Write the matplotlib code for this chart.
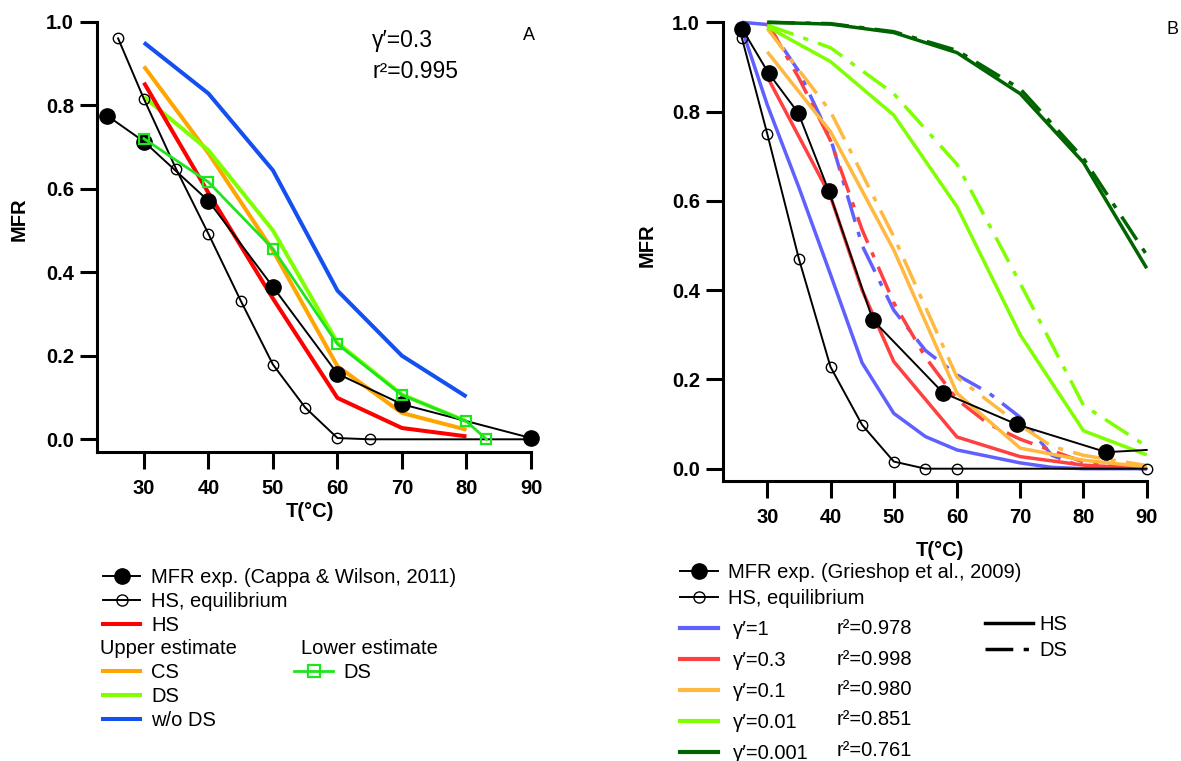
import matplotlib
matplotlib.use("Agg")
import matplotlib.pyplot as plt
from matplotlib.lines import Line2D

plt.rcParams['font.family'] = ['Liberation Sans', 'DejaVu Sans']

# ---------------- Panel A data ----------------
A_exp_T = [24.3, 30, 40, 50, 60, 70, 90]
A_exp = [0.775, 0.713, 0.571, 0.365, 0.157, 0.084, 0.003]
A_eq_T = [26, 30, 35, 40, 45, 50, 55, 60, 65, 90]
A_eq = [0.960, 0.815, 0.647, 0.492, 0.332, 0.179, 0.076, 0.003, 0.0, 0.0]
A_T = [30, 40, 50, 60, 70, 80]
A_HS = [0.854, 0.59, 0.337, 0.099, 0.027, 0.007]
A_CS_up = [0.893, 0.685, 0.452, 0.175, 0.063, 0.023]
A_DS_up = [0.820, 0.692, 0.500, 0.231, 0.107, 0.043]
A_woDS = [0.950, 0.828, 0.644, 0.356, 0.200, 0.102]
A_DSlow_T = [30, 40, 50, 60, 70, 80, 83.1]
A_DSlow = [0.720, 0.616, 0.456, 0.228, 0.106, 0.043, 0.0]

# ---------------- Panel B data ----------------
B_exp_T = [26, 30.2, 34.9, 39.7, 46.7, 57.8, 69.5, 83.6, 90]
B_exp = [0.986, 0.886, 0.797, 0.623, 0.333, 0.170, 0.099, 0.037, 0.042]
B_eq_T = [26, 30, 35, 40, 45, 50, 55, 60, 90]
B_eq = [0.964, 0.750, 0.470, 0.228, 0.098, 0.016, 0.0, 0.0, 0.0]

g1_HS_T = [26, 30, 35, 40, 45, 50, 55, 60, 70, 75, 80, 90]
g1_HS = [0.985, 0.815, 0.63, 0.435, 0.237, 0.124, 0.072, 0.042, 0.013, 0.003, 0.0, 0.0]
g1_DS_T = [26, 30, 35, 40, 45, 50, 55, 60, 65, 70, 75, 80, 90]
g1_DS = [1.0, 0.995, 0.89, 0.74, 0.50, 0.355, 0.265, 0.21, 0.17, 0.115, 0.03, 0.003, 0.0]

g03_HS_T = [30, 40, 45, 50, 60, 70, 80, 90]
g03_HS = [0.878, 0.61, 0.40, 0.24, 0.071, 0.027, 0.008, 0.0]
g03_DS_T = [30, 35, 40, 45, 50, 55, 60, 65, 70, 80, 90]
g03_DS = [1.0, 0.875, 0.735, 0.535, 0.372, 0.25, 0.155, 0.10, 0.066, 0.015, 0.002]

g01_HS_T = [30, 40, 50, 60, 70, 80, 90]
g01_HS = [0.934, 0.755, 0.49, 0.169, 0.046, 0.019, 0.004]
g01_DS_T = [30, 40, 50, 60, 70, 75, 80, 90]
g01_DS = [0.986, 0.80, 0.52, 0.205, 0.097, 0.05, 0.03, 0.007]

g001_T = [30, 40, 50, 60, 70, 80, 90]
g001_HS = [0.99, 0.912, 0.792, 0.587, 0.30, 0.085, 0.031]
g001_DS = [0.994, 0.943, 0.84, 0.682, 0.415, 0.142, 0.05]

g0001_T = [30, 40, 50, 60, 70, 80, 90]
g0001_HS = [1.0, 0.996, 0.977, 0.932, 0.840, 0.686, 0.449]
g0001_DS = [1.0, 0.997, 0.979, 0.937, 0.851, 0.695, 0.479]

gamma_labels = ["γ′=1", "γ′=0.3", "γ′=0.1", "γ′=0.01", "γ′=0.001"]
r2_labels = ["r²=0.978", "r²=0.998", "r²=0.980", "r²=0.851", "r²=0.761"]

x_ticks = [30, 40, 50, 60, 70, 80, 90]
y_ticks = [0.0, 0.2, 0.4, 0.6, 0.8, 1.0]

# ---------------- styles ----------------
W, H = 1181, 761
fig = plt.figure(figsize=(W / 100, H / 100), dpi=100)

def fx(x):
    return x / W

def fy(y):
    return 1 - y / H

cA = dict(red='#FF0000', orange='#FFA500', lime='#80FF00', blue='#1450F0', low='#1EE61E')
cB = ['#6060FF', '#FF4040', '#FFB840', '#80FF00', '#006400']
DD = (8, 3, 1.5, 3)
FS = 14.5
TFS = 14.5

def style_axes(ax, xlim, ylim):
    ax.set_xlim(*xlim)
    ax.set_ylim(*ylim)
    for s in ['top', 'right']:
        ax.spines[s].set_visible(False)
    for s in ['left', 'bottom']:
        ax.spines[s].set_linewidth(2.2)
    ax.set_xticks(x_ticks)
    ax.set_yticks(y_ticks)
    ax.set_yticklabels([f"{v:.1f}" for v in y_ticks])
    ax.tick_params(axis='both', direction='out', length=12, width=2.2,
                   labelsize=TFS)
    ax.tick_params(axis='x', pad=7.5)
    ax.tick_params(axis='y', pad=4.5)
    for lab in ax.get_xticklabels() + ax.get_yticklabels():
        lab.set_fontweight('bold')
    ax.set_xlabel('T(°C)', fontsize=TFS, fontweight='bold')
    ax.set_ylabel('MFR', fontsize=TFS, fontweight='bold')

def add_legend(handles, labels, x, ytop, hl, htp, ls):
    return fig.legend(handles, labels, loc='upper left',
                      bbox_to_anchor=(fx(x), fy(ytop)),
                      bbox_transform=fig.transFigure, frameon=False, fontsize=FS,
                      borderpad=0, borderaxespad=0, handlelength=hl,
                      handletextpad=htp, labelspacing=ls)

# ---------------- Panel A ----------------
axA = fig.add_axes([fx(96.7), fy(451.7), fx(531 - 96.7), (451.7 - 21.7) / H])
style_axes(axA, (22.68, 90), (-0.0297, 1.0))
lwA = 2.9
axA.plot(A_T, A_woDS, color=cA['blue'], lw=lwA, solid_capstyle='butt', zorder=2)
axA.plot(A_T, A_CS_up, color=cA['orange'], lw=lwA, solid_capstyle='butt', zorder=2)
axA.plot(A_T, A_DS_up, color=cA['lime'], lw=lwA, solid_capstyle='butt', zorder=2)
axA.plot(A_T, A_HS, color=cA['red'], lw=lwA, solid_capstyle='butt', zorder=2)
axA.plot(A_eq_T, A_eq, color='black', lw=1.4, marker='o', ms=7.5, mfc='none',
         mec='black', mew=1.0, zorder=3, clip_on=False)
axA.plot(A_exp_T, A_exp, color='black', lw=1.4, marker='o', ms=11, mfc='black',
         mec='black', zorder=4, clip_on=False)
axA.plot(A_DSlow_T, A_DSlow, color=cA['low'], lw=2.0, marker='s', ms=7.5,
         mfc='none', mec=cA['low'], mew=1.6, zorder=5, clip_on=False)
axA.xaxis.set_label_coords(0.491, -0.118)
axA.yaxis.set_label_coords(-0.1575, 0.541)

fig.text(fx(372), fy(40), 'γ′=0.3', fontsize=16.5, va='center', ha='left')
fig.text(fx(372), fy(72), 'r²=0.995', fontsize=16.5, va='center', ha='left')
fig.text(fx(529), fy(36), 'A', fontsize=13, va='center', ha='center')

# Legend A
add_legend([Line2D([], [], color='black', lw=1.4, marker='o', ms=11, mfc='black'),
            Line2D([], [], color='black', lw=1.4, marker='o', ms=8, mfc='none', mew=1.0),
            Line2D([], [], color=cA['red'], lw=lwA)],
           ['MFR exp. (Cappa & Wilson, 2011)', 'HS, equilibrium', 'HS'],
           103, 568, 1.84, 0.55, 0.26)
fig.text(fx(100), fy(648), 'Upper estimate', fontsize=FS, va='center', ha='left')
fig.text(fx(301), fy(648), 'Lower estimate', fontsize=FS, va='center', ha='left')
add_legend([Line2D([], [], color=cA['orange'], lw=lwA),
            Line2D([], [], color=cA['lime'], lw=lwA),
            Line2D([], [], color=cA['blue'], lw=lwA)],
           ['CS', 'DS', 'w/o DS'], 103, 663, 1.84, 0.55, 0.26)
add_legend([Line2D([], [], color=cA['low'], lw=2.0, marker='s', ms=8,
                   mfc='none', mec=cA['low'], mew=1.6)], ['DS'],
           294, 663, 1.94, 0.5, 0.26)

# ---------------- Panel B ----------------
axB = fig.add_axes([fx(722.7), fy(480.7), fx(1146.7 - 722.7), (480.7 - 22.3) / H])
style_axes(axB, (22.95, 90), (-0.0269, 1.0))
lwB = 2.5
series = [(g1_HS_T, g1_HS, g1_DS_T, g1_DS),
          (g03_HS_T, g03_HS, g03_DS_T, g03_DS),
          (g01_HS_T, g01_HS, g01_DS_T, g01_DS),
          (g001_T, g001_HS, g001_T, g001_DS),
          (g0001_T, g0001_HS, g0001_T, g0001_DS)]
for (tH, vH, tD, vD), c in zip(series, cB):
    axB.plot(tH, vH, color=c, lw=lwB, solid_capstyle='butt', zorder=2, clip_on=False)
    axB.plot(tD, vD, color=c, lw=lwB, dashes=DD, dash_capstyle='butt', zorder=2,
             clip_on=False)
axB.plot(B_eq_T, B_eq, color='black', lw=1.4, marker='o', ms=7.5, mfc='none',
         mec='black', mew=1.0, zorder=3, clip_on=False)
axB.plot(B_exp_T, B_exp, color='black', lw=1.4, marker='o', ms=11, mfc='black',
         mec='black', zorder=4, clip_on=False, markevery=list(range(len(B_exp_T) - 1)))
axB.xaxis.set_label_coords(0.5125, -0.1315)
axB.yaxis.set_label_coords(-0.157, 0.514)
fig.text(fx(1172), fy(30), 'B', fontsize=13, va='center', ha='center')

# Legend B
add_legend([Line2D([], [], color='black', lw=1.4, marker='o', ms=11, mfc='black'),
            Line2D([], [], color='black', lw=1.4, marker='o', ms=8, mfc='none', mew=1.0)],
           ['MFR exp. (Grieshop et al., 2009)', 'HS, equilibrium'],
           680, 563, 1.89, 0.5, 0.34)
add_legend([Line2D([], [], color=c, lw=3.0) for c in cB], gamma_labels,
           680, 620, 1.89, 0.73, 0.6)
for i, r in enumerate(r2_labels):
    fig.text(fx(836.7), fy(629 + 30.3 * i), r, fontsize=FS, va='center', ha='left')
add_legend([Line2D([], [], color='black', lw=2.5),
            Line2D([], [], color='black', lw=2.5, dashes=DD)],
           ['HS', 'DS'], 985, 615.5, 2.38, 0.3, 0.34)

fig.savefig('out.png', dpi=100)
